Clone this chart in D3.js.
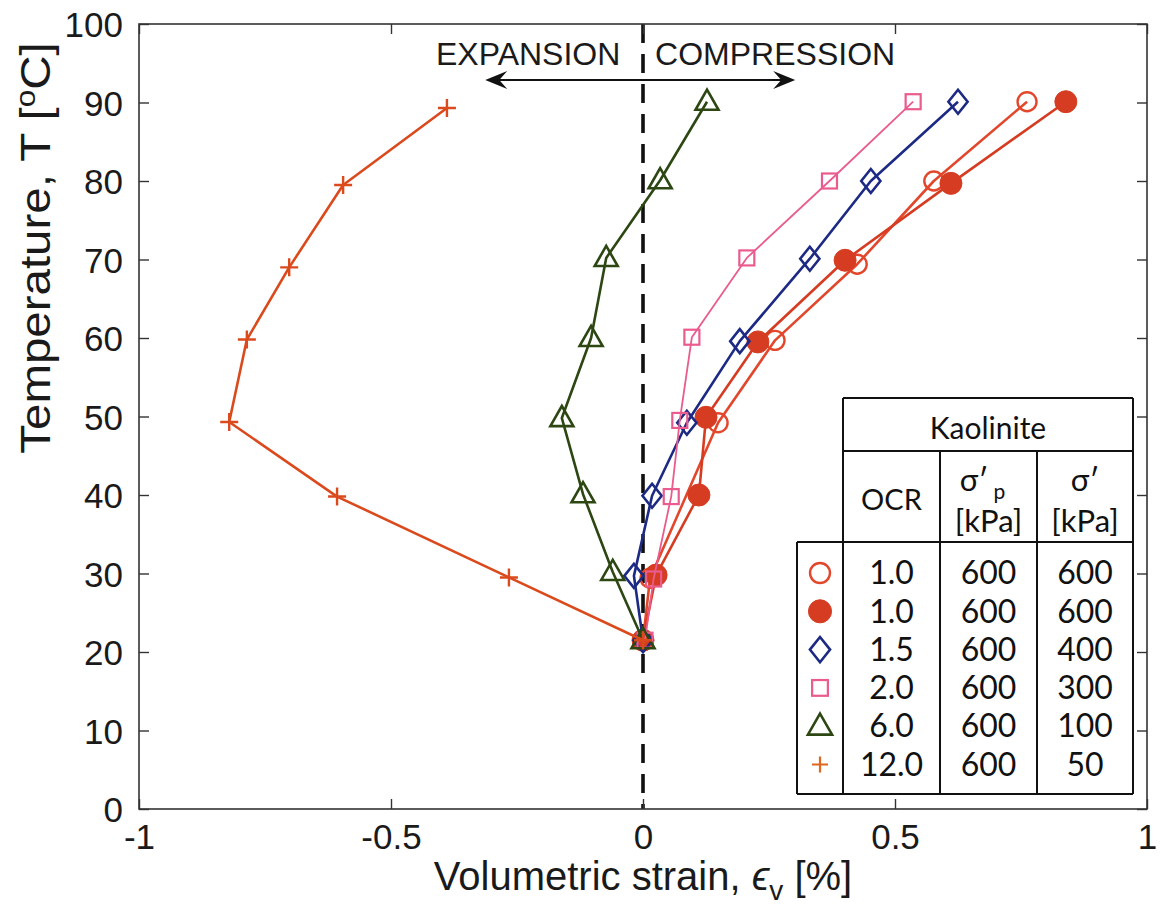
<!DOCTYPE html>
<html>
<head>
<meta charset="utf-8">
<script src="https://cdn.jsdelivr.net/npm/d3@7"></script>
<style>
  body { margin: 0; background: #fff; }
  text { font-family: "Liberation Sans", Arial, Helvetica, sans-serif; }
  .tbl text { font-family: Lato, "Open Sans", sans-serif; }
</style>
</head>
<body>
<svg id="chart" width="1160" height="915"></svg>
<script>
// Volumetric strain (%) against temperature (°C) for kaolinite at different OCR
const tempOcr1Open = [21.5, 29.4, 49.2, 59.7, 69.4, 80.0, 90.1];
const strainOcr1Open = [0, 0.014, 0.149, 0.262, 0.425, 0.577, 0.762];

const tempOcr1Filled = [21.5, 29.8, 40.0, 49.9, 59.5, 69.9, 79.7, 90.1];
const strainOcr1Filled = [0, 0.026, 0.111, 0.125, 0.228, 0.401, 0.611, 0.839];

const tempOcr15 = [21.5, 29.7, 39.9, 49.2, 59.6, 70.1, 80.0, 90.1];
const strainOcr15 = [0, -0.018, 0.018, 0.087, 0.192, 0.331, 0.452, 0.625];

const tempOcr2 = [21.5, 29.3, 39.8, 49.5, 60.1, 70.2, 80.0, 90.1];
const strainOcr2 = [0.004, 0.021, 0.056, 0.073, 0.097, 0.206, 0.370, 0.536];

const tempOcr6 = [21.5, 30.2, 40.1, 49.8, 60.0, 70.2, 80.1, 90.1];
const strainOcr6 = [0, -0.060, -0.119, -0.161, -0.103, -0.073, 0.034, 0.127];

const tempOcr12 = [21.5, 29.5, 39.8, 49.3, 59.8, 69.0, 79.5, 89.3];
const strainOcr12 = [0, -0.266, -0.607, -0.821, -0.786, -0.702, -0.595, -0.389];

// Legend table rows
const legendOcr = ["1.0", "1.0", "1.5", "2.0", "6.0", "12.0"];
const legendSigmaP = ["600", "600", "600", "600", "600", "600"];
const legendSigma = ["600", "600", "400", "300", "100", "50"];

// Axis ticks
const xTicks = [-1, -0.5, 0, 0.5, 1];
const yTicks = [0, 10, 20, 30, 40, 50, 60, 70, 80, 90, 100];

const svg = d3.select("#chart");
const plotLeft = 139, plotRight = 1147, plotTop = 24, plotBottom = 809;
const x = d3.scaleLinear().domain([-1, 1]).range([plotLeft, plotRight]);
const y = d3.scaleLinear().domain([0, 100]).range([plotBottom, plotTop]);

const series = [
  { name: "ocr1open", t: tempOcr1Open, s: strainOcr1Open, color: "#e2472c", width: 2.6, marker: "circleOpen" },
  { name: "ocr1filled", t: tempOcr1Filled, s: strainOcr1Filled, color: "#d53c22", width: 2.6, marker: "circleFilled" },
  { name: "ocr15", t: tempOcr15, s: strainOcr15, color: "#1d2a84", width: 2.6, marker: "diamond" },
  { name: "ocr2", t: tempOcr2, s: strainOcr2, color: "#ea5b8e", width: 1.8, marker: "square" },
  { name: "ocr6", t: tempOcr6, s: strainOcr6, color: "#2d4713", width: 2.6, marker: "triangle" },
  { name: "ocr12", t: tempOcr12, s: strainOcr12, color: "#da4a1d", width: 2.6, marker: "plus" }
];

function drawMarker(g, type, cx, cy, color, scale) {
  const k = scale || 1;
  if (type === "circleOpen") {
    g.append("circle").attr("cx", cx).attr("cy", cy).attr("r", 9.5 * k)
      .attr("fill", "none").attr("stroke", color).attr("stroke-width", 2.4);
  } else if (type === "circleFilled") {
    g.append("circle").attr("cx", cx).attr("cy", cy).attr("r", 11 * k)
      .attr("fill", color).attr("stroke", color).attr("stroke-width", 1);
  } else if (type === "diamond") {
    const r = 12 * k;
    g.append("path").attr("d", `M${cx},${cy - r}L${cx + r * 0.8},${cy}L${cx},${cy + r}L${cx - r * 0.8},${cy}Z`)
      .attr("fill", "none").attr("stroke", color).attr("stroke-width", 2.6);
  } else if (type === "square") {
    const h = 7.5 * k;
    g.append("rect").attr("x", cx - h).attr("y", cy - h).attr("width", 2 * h).attr("height", 2 * h)
      .attr("fill", "none").attr("stroke", color).attr("stroke-width", 2.2);
  } else if (type === "triangle") {
    const r = 11.5 * k;
    g.append("path").attr("d", `M${cx},${cy - r * 1.05}L${cx + r},${cy + r * 0.7}L${cx - r},${cy + r * 0.7}Z`)
      .attr("fill", "none").attr("stroke", color).attr("stroke-width", 2.6);
  } else if (type === "plus") {
    const r = 9 * k;
    g.append("path").attr("d", `M${cx - r},${cy}H${cx + r}M${cx},${cy - r}V${cy + r}`)
      .attr("fill", "none").attr("stroke", color).attr("stroke-width", 2.4);
  }
}

// zero-strain reference line
svg.append("line")
  .attr("x1", x(0)).attr("x2", x(0)).attr("y1", plotTop).attr("y2", plotBottom)
  .attr("stroke", "#111").attr("stroke-width", 3.6).attr("stroke-dasharray", "19,11");

// data series
const line = d3.line().x(d => x(d[0])).y(d => y(d[1]));
series.forEach(sr => {
  const g = svg.append("g").attr("class", "series-" + sr.name);
  const pts = sr.s.map((v, i) => [v, sr.t[i]]);
  g.append("path").datum(pts).attr("d", line)
    .attr("fill", "none").attr("stroke", sr.color).attr("stroke-width", sr.width)
    .attr("stroke-linejoin", "round");
  pts.forEach(p => drawMarker(g, sr.marker, x(p[0]), y(p[1]), sr.color));
});

// axes box with inward ticks on all four sides
const axisColor = "#333";
svg.append("rect").attr("x", plotLeft).attr("y", plotTop)
  .attr("width", plotRight - plotLeft).attr("height", plotBottom - plotTop)
  .attr("fill", "none").attr("stroke", axisColor).attr("stroke-width", 1.6);

const xAxisB = d3.axisBottom(x).tickValues(xTicks).tickSize(-10).tickPadding(15)
  .tickFormat(d => d === 0 ? "0" : String(d));
const gxb = svg.append("g").attr("transform", `translate(0,${plotBottom})`).call(xAxisB);
const xAxisT = d3.axisTop(x).tickValues(xTicks).tickSize(-10).tickFormat("");
const gxt = svg.append("g").attr("transform", `translate(0,${plotTop})`).call(xAxisT);
const yAxisL = d3.axisLeft(y).tickValues(yTicks).tickSize(-10).tickPadding(16);
const gyl = svg.append("g").attr("transform", `translate(${plotLeft},0)`).call(yAxisL);
const yAxisR = d3.axisRight(y).tickValues(yTicks).tickSize(-10).tickFormat("");
const gyr = svg.append("g").attr("transform", `translate(${plotRight},0)`).call(yAxisR);

[gxb, gxt, gyl, gyr].forEach(g => {
  g.select(".domain").remove();
  g.selectAll(".tick line").attr("stroke", axisColor).attr("stroke-width", 1.4);
  g.selectAll("text").attr("fill", "#1a1a1a").style("font-size", "35px")
    .style("font-family", "'Liberation Sans', Arial, sans-serif");
});
gxb.selectAll("text").attr("dy", "0.71em");
gyl.selectAll("text").attr("dy", "0.36em");

// axis titles
svg.append("text").attr("x", x(0)).attr("y", 890).attr("text-anchor", "middle")
  .style("font-size", "40px").attr("fill", "#1a1a1a")
  .call(t => {
    t.append("tspan").text("Volumetric strain, ");
    t.append("tspan").text("\u03F5").style("font-style", "italic");
    t.append("tspan").text("v").attr("dy", 10).style("font-size", "28px");
    t.append("tspan").text(" [%]").attr("dy", -10);
  });

svg.append("text").attr("transform", `translate(50,248) rotate(-90) scale(1.13,1)`).attr("text-anchor", "middle")
  .style("font-size", "42px").attr("fill", "#1a1a1a")
  .call(t => {
    t.append("tspan").text("Temperature, T [");
    t.append("tspan").text("o").attr("dy", -15).style("font-size", "28px");
    t.append("tspan").text("C]").attr("dy", 15);
  });

// expansion / compression annotation
const arrowY = 80;
const ax0 = x(-0.313), ax1 = x(0.302);
svg.append("line").attr("x1", ax0 + 6).attr("x2", ax1 - 6).attr("y1", arrowY).attr("y2", arrowY)
  .attr("stroke", "#111").attr("stroke-width", 1.8);
function arrowHead(tipX, dir) {
  const L = 22, W = 9, N = 14;
  svg.append("path")
    .attr("d", `M${tipX},${arrowY}L${tipX - dir * L},${arrowY - W}L${tipX - dir * N},${arrowY}L${tipX - dir * L},${arrowY + W}Z`)
    .attr("fill", "#111");
}
arrowHead(ax0, -1);
arrowHead(ax1, 1);
svg.append("text").attr("x", x(-0.045)).attr("y", 53).attr("dy", "0.36em").attr("text-anchor", "end")
  .style("font-size", "32px").attr("fill", "#1a1a1a").text("EXPANSION");
svg.append("text").attr("x", x(0.024)).attr("y", 53).attr("dy", "0.36em").attr("text-anchor", "start")
  .style("font-size", "32px").attr("fill", "#1a1a1a").text("COMPRESSION");

// legend table
const tb = svg.append("g").attr("class", "tbl");
const colX = [797, 843, 940, 1037, 1133];
const rowY = [398, 451, 542, 794];
const tblStroke = "#111";
function hline(x1, x2, yy) {
  tb.append("line").attr("x1", x1).attr("x2", x2).attr("y1", yy).attr("y2", yy)
    .attr("stroke", tblStroke).attr("stroke-width", 2);
}
function vline(xx, y1, y2) {
  tb.append("line").attr("x1", xx).attr("x2", xx).attr("y1", y1).attr("y2", y2)
    .attr("stroke", tblStroke).attr("stroke-width", 2);
}
tb.append("rect").attr("x", colX[1]).attr("y", rowY[0]).attr("width", colX[4] - colX[1])
  .attr("height", rowY[3] - rowY[0]).attr("fill", "#fff");
tb.append("rect").attr("x", colX[0]).attr("y", rowY[2]).attr("width", colX[1] - colX[0])
  .attr("height", rowY[3] - rowY[2]).attr("fill", "#fff");
hline(colX[1], colX[4], rowY[0]);
hline(colX[1], colX[4], rowY[1]);
hline(colX[0], colX[4], rowY[2]);
hline(colX[0], colX[4], rowY[3]);
vline(colX[0], rowY[2], rowY[3]);
vline(colX[1], rowY[0], rowY[3]);
vline(colX[2], rowY[1], rowY[3]);
vline(colX[3], rowY[1], rowY[3]);
vline(colX[4], rowY[0], rowY[3]);

const headFont = "29px", numFont = "32px";
tb.append("text").attr("x", (colX[1] + colX[4]) / 2).attr("y", 428).attr("dy", "0.35em")
  .attr("text-anchor", "middle").style("font-size", "30px").attr("fill", "#111").text("Kaolinite");
tb.append("text").attr("x", (colX[1] + colX[2]) / 2).attr("y", 500).attr("dy", "0.35em")
  .attr("text-anchor", "middle").style("font-size", headFont).attr("fill", "#111").text("OCR");
tb.append("text").attr("x", (colX[2] + colX[3]) / 2 - 6).attr("y", 480).attr("dy", "0.35em")
  .attr("text-anchor", "middle").style("font-size", "31px").attr("fill", "#111")
  .call(t => {
    t.append("tspan").text("\u03C3\u2032");
    t.append("tspan").text("p").attr("dy", 8).attr("dx", 5).style("font-size", "21px");
  });
tb.append("text").attr("x", (colX[2] + colX[3]) / 2).attr("y", 521).attr("dy", "0.35em")
  .attr("text-anchor", "middle").style("font-size", "31px").attr("fill", "#111").text("[kPa]");
tb.append("text").attr("x", (colX[3] + colX[4]) / 2).attr("y", 480).attr("dy", "0.35em")
  .attr("text-anchor", "middle").style("font-size", "31px").attr("fill", "#111").text("\u03C3\u2032");
tb.append("text").attr("x", (colX[3] + colX[4]) / 2).attr("y", 521).attr("dy", "0.35em")
  .attr("text-anchor", "middle").style("font-size", "31px").attr("fill", "#111").text("[kPa]");

const rowStep = 38.3, row0 = 573;
legendOcr.forEach((v, i) => {
  const yy = row0 + i * rowStep;
  const sr = series[i];
  const mk = tb.append("g");
  if (sr.marker === "plus") {
    mk.append("path").attr("d", `M${820 - 8},${yy}H${820 + 8}M${820},${yy - 8}V${yy + 8}`)
      .attr("stroke", "#e0661f").attr("stroke-width", 2.2);
  } else {
    drawMarker(mk, sr.marker, 820, yy, sr.color, 1.05);
  }
  tb.append("text").attr("x", (colX[1] + colX[2]) / 2).attr("y", yy).attr("dy", "0.35em")
    .attr("text-anchor", "middle").style("font-size", numFont).attr("fill", "#111").text(v);
  tb.append("text").attr("x", (colX[2] + colX[3]) / 2).attr("y", yy).attr("dy", "0.35em")
    .attr("text-anchor", "middle").style("font-size", numFont).attr("fill", "#111").text(legendSigmaP[i]);
  tb.append("text").attr("x", (colX[3] + colX[4]) / 2).attr("y", yy).attr("dy", "0.35em")
    .attr("text-anchor", "middle").style("font-size", numFont).attr("fill", "#111").text(legendSigma[i]);
});
</script>
</body>
</html>
